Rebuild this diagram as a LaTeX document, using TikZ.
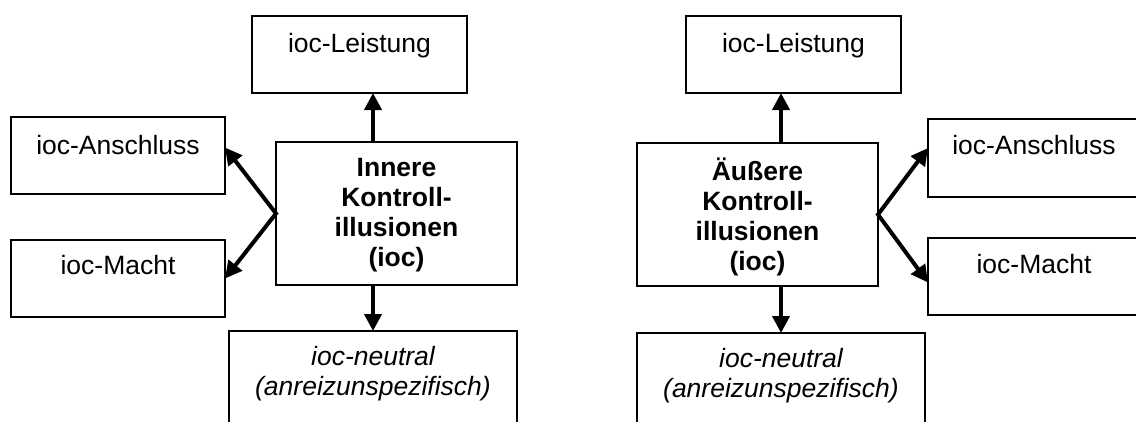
\documentclass[tikz,border=0pt]{standalone}
\usepackage{fontspec}
\setmainfont{Liberation Sans}
\usetikzlibrary{arrows.meta}
\tikzset{
  box/.style={draw, line width=1.8pt, rectangle, inner sep=0pt, outer sep=0pt, anchor=north west},
  txt/.style={font=\fontsize{26.5pt}{30pt}\selectfont, inner sep=0pt, align=center},
  conn/.style={line width=4pt, -{Triangle[length=17pt,width=17pt]}},
  fork/.style={line width=4pt, {Triangle[length=17pt,width=17pt]}-{Triangle[length=17pt,width=17pt]}},
}
\begin{document}
\begin{tikzpicture}[x=1pt,y=-1pt]
\clip (0,0) rectangle (1136,421);
\fill[white] (0,0) rectangle (1136,421);

% ---- inner control illusions (left) ----
\node[box, minimum width=215pt, minimum height=77pt]  (leisL)  at (252,16)  {};
\node[box, minimum width=214pt, minimum height=77pt]  (ansL)   at (11,117)  {};
\node[box, minimum width=214pt, minimum height=77pt]  (machtL) at (11,240)  {};
\node[box, minimum width=241pt, minimum height=143pt] (cenL)   at (276,142) {};
\node[box, minimum width=288pt, minimum height=120pt] (neuL)   at (229,331) {};

\node[txt, anchor=base] (leisLt)  at ([yshift=-36pt]leisL.north)  {ioc-Leistung};
\node[txt, anchor=base] (ansLt)   at ([yshift=-37pt]ansL.north)   {ioc-Anschluss};
\node[txt, anchor=base] (machtLt) at ([yshift=-34pt]machtL.north) {ioc-Macht};
\node[txt, font=\fontsize{26.5pt}{30pt}\selectfont\bfseries] (cenLt) at ([yshift=-2pt]cenL.center)
  {Innere\\Kontroll-\\illusionen\\(ioc)};
\node[txt, font=\fontsize{26.5pt}{30pt}\selectfont\itshape] (neuLt) at ([yshift=-43pt]neuL.north)
  {ioc-neutral\\(anreizunspezifisch)};

\draw[conn] (cenL.north -| neuL.north) -- (leisL.south -| neuL.north);
\draw[conn] (cenL.south -| neuL.north) -- (neuL.north);
\draw[fork] ([yshift=8pt]ansL.east) -- (cenL.west) -- (machtL.east);

% ---- outer control illusions (right) ----
\node[box, minimum width=215pt, minimum height=77pt]  (leisR)  at (686,16)  {};
\node[box, minimum width=212pt, minimum height=78pt]  (ansR)   at (928,119) {};
\node[box, minimum width=212pt, minimum height=77pt]  (machtR) at (928,238) {};
\node[box, minimum width=241pt, minimum height=143pt] (cenR)   at (637,143) {};
\node[box, minimum width=288pt, minimum height=120pt] (neuR)   at (637,333) {};

\node[txt, anchor=base] (leisRt)  at ([yshift=-36pt]leisR.north)  {ioc-Leistung};
\node[txt, anchor=base] (ansRt)   at ([yshift=-35pt]ansR.north)   {ioc-Anschluss};
\node[txt, anchor=base] (machtRt) at ([yshift=-35pt]machtR.north) {ioc-Macht};
\node[txt, font=\fontsize{26.5pt}{30pt}\selectfont\bfseries] (cenRt) at ([yshift=-2pt]cenR.center)
  {Äußere\\Kontroll-\\illusionen\\(ioc)};
\node[txt, font=\fontsize{26.5pt}{30pt}\selectfont\itshape] (neuRt) at ([yshift=-43pt]neuR.north)
  {ioc-neutral\\(anreizunspezifisch)};

\draw[conn] (cenR.north -| neuR.north) -- (leisR.south -| neuR.north);
\draw[conn] (cenR.south -| neuR.north) -- (neuR.north);
\draw[fork] ([yshift=10pt]ansR.west) -- (cenR.east) -- ([yshift=-6pt]machtR.west);
\end{tikzpicture}
\end{document}
